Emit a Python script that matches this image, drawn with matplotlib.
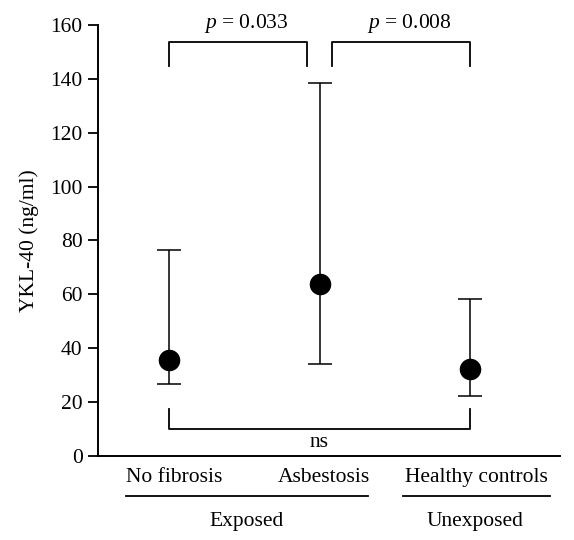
import numpy as np
import matplotlib
matplotlib.use('Agg')
import matplotlib.pyplot as plt

plt.rcParams['font.family'] = ['Liberation Serif', 'DejaVu Serif']
plt.rcParams['mathtext.fontset'] = 'custom'
plt.rcParams['mathtext.rm'] = 'Liberation Serif'
plt.rcParams['mathtext.it'] = 'Liberation Serif:italic'

# data
groups = ['No fibrosis', 'Asbestosis', 'Healthy controls']
median = np.array([35.6, 63.8, 32.2])
low = np.array([26.7, 34.1, 22.2])
high = np.array([76.5, 138.5, 58.3])
pvals = ['0.033', '0.008']
ns_label = 'ns'
exposure = ['Exposed', 'Unexposed']
yticks = [0, 20, 40, 60, 80, 100, 120, 140, 160]

x = np.arange(1, len(groups) + 1)
fs = 15.5

fig = plt.figure(figsize=(5.74, 5.40), dpi=100)
ax = fig.add_axes([0.1707, 0.1561, 0.8049, 0.7976])

yerr = np.vstack([median - low, high - median])
ax.errorbar(x, median, yerr=yerr, fmt='o', color='black', ms=14.5,
            elinewidth=1.1, capsize=8.6, capthick=1.1)

ax.set_xlim(0.528, 3.598)
ax.set_ylim(0, 160)
ax.set_yticks(yticks)
ax.set_xticks([])
ax.tick_params(axis='y', labelsize=fs, length=7, width=1.3, direction='out', pad=4)
for side in ['top', 'right']:
    ax.spines[side].set_visible(False)
for side in ['left', 'bottom']:
    ax.spines[side].set_linewidth(1.4)
ax.set_ylabel('YKL-40 (ng/ml)', fontsize=fs, labelpad=8)

# significance brackets
lw = 1.3
top, leg = 153.8, 144.9
ax.plot([1, 1, 1.917, 1.917], [leg, top, top, leg], color='black', lw=lw, clip_on=False)
ax.plot([2.083, 2.083, 3, 3], [leg, top, top, leg], color='black', lw=lw, clip_on=False)
ax.text(1.51, 158.8, r'$p$ = ' + pvals[0], ha='center', va='baseline', fontsize=fs)
ax.text(2.595, 158.8, r'$p$ = ' + pvals[1], ha='center', va='baseline', fontsize=fs)

ax.plot([1, 1, 3, 3], [17.4, 9.9, 9.9, 17.4], color='black', lw=lw, clip_on=False)
ax.text(2, 5.0, ns_label, ha='center', va='center', fontsize=fs)

# group labels below the axis
label_x = [1.037, 2.027, 3.043]
for xi, g in zip(label_x, groups):
    ax.text(xi, -9.8, g, ha='center', va='baseline', fontsize=fs, clip_on=False)

ax.plot([0.714, 2.322], [-14.9, -14.9], color='black', lw=1.3, clip_on=False)
ax.plot([2.555, 3.532], [-14.9, -14.9], color='black', lw=1.3, clip_on=False)
ax.text(1.518, -26.0, exposure[0], ha='center', va='baseline', fontsize=fs, clip_on=False)
ax.text(3.035, -26.0, exposure[1], ha='center', va='baseline', fontsize=fs, clip_on=False)

fig.savefig('out.png', dpi=100)
